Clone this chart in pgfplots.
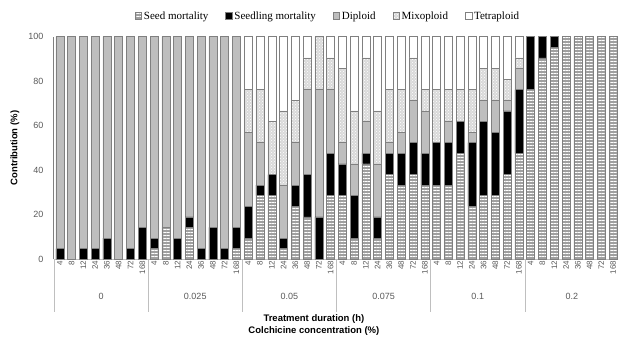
\documentclass[border=0pt]{standalone}
\usepackage{pgfplots}
\pgfplotsset{compat=1.18}
\usepackage{pgfplotstable}
\usetikzlibrary{patterns,patterns.meta}
\usepackage{fontspec}
\setmainfont{Liberation Sans}
\newfontfamily\legfont{Liberation Serif}
\definecolor{tickgray}{HTML}{595959}
\definecolor{edgegray}{HTML}{808080}
\definecolor{seedfill}{HTML}{A0A0A0}
\definecolor{dipfill}{HTML}{BEBEBE}
\definecolor{mixfill}{HTML}{D9D9D9}

\pgfplotstableread{
idx seed seedling diploid mixo tetra
0 0 4.76 95.24 0 0
1 0 0 100 0 0
2 0 4.76 95.24 0 0
3 0 4.76 95.24 0 0
4 0 9.52 90.48 0 0
5 0 0 100 0 0
6 0 4.76 95.24 0 0
7 0 14.29 85.71 0 0
8 4.76 4.76 90.48 0 0
9 14.29 0 85.71 0 0
10 0 9.52 90.48 0 0
11 14.29 4.76 80.95 0 0
12 0 4.76 95.24 0 0
13 0 14.29 85.71 0 0
14 0 4.76 95.24 0 0
15 4.76 9.52 85.71 0 0
16 9.52 14.29 33.33 19.05 23.81
17 28.57 4.76 19.05 23.81 23.81
18 28.57 9.52 0 23.81 38.10
19 4.76 4.76 23.81 33.33 33.33
20 23.81 9.52 19.05 19.05 28.57
21 19.05 19.05 38.10 14.29 9.52
22 0 19.05 57.14 23.81 0
23 28.57 19.05 28.57 14.29 9.52
24 28.57 14.29 9.52 33.33 14.29
25 9.52 19.05 14.29 23.81 33.33
26 42.86 4.76 14.29 28.57 9.52
27 9.52 9.52 23.81 23.81 33.33
28 38.10 9.52 4.76 23.81 23.81
29 33.33 14.29 9.52 19.05 23.81
30 38.10 14.29 19.05 19.05 9.52
31 33.33 14.29 19.05 9.52 23.81
32 33.33 19.05 0 23.81 23.81
33 33.33 19.05 9.52 14.29 23.81
34 47.62 14.29 0 14.29 23.81
35 23.81 28.57 4.76 19.05 23.81
36 28.57 33.33 9.52 14.29 14.29
37 28.57 28.57 14.29 14.29 14.29
38 38.10 28.57 4.76 9.52 19.05
39 47.62 28.57 9.52 4.76 9.52
40 76.19 23.81 0 0 0
41 90.48 9.52 0 0 0
42 95.24 4.76 0 0 0
43 100 0 0 0 0
44 100 0 0 0 0
45 100 0 0 0 0
46 100 0 0 0 0
47 100 0 0 0 0
}\datatable

\begin{document}
\begin{tikzpicture}
\begin{axis}[
  at={(54pt,80.7pt)}, anchor=south west,
  scale only axis, width=565pt, height=222.6pt,
  ybar stacked, bar width=0.68,
  xmin=-0.5, xmax=47.5, ymin=0, ymax=100,
  ytick={0,20,...,100},
  xtick={0,...,47},
  xticklabels={4,8,12,24,36,48,72,168,4,8,12,24,36,48,72,168,4,8,12,24,36,48,72,168,4,8,12,24,36,48,72,168,4,8,12,24,36,48,72,168,4,8,12,24,36,48,72,168},
  x tick label style={rotate=90, anchor=east, font=\fontsize{8}{9}\selectfont, text=tickgray, inner sep=1.5pt},
  y tick label style={font=\fontsize{9}{10}\selectfont, text=tickgray, xshift=-7pt},
  /pgf/number format/assume math mode=true,
  major tick length=0pt,
  axis x line*=bottom, axis y line*=left,
  x axis line style={draw=gray!50, -},
  y axis line style={draw=edgegray, line width=1pt, -},
  clip=false,
  xlabel={Treatment duration (h)\\Colchicine concentration (\%)},
  xlabel style={at={(axis description cs:0.460,-0.2960)}, anchor=center, align=center, font=\bfseries\fontsize{9.5}{12}\selectfont},
  ylabel={Contribution (\%)},
  every axis y label/.style={at={(axis description cs:-0.069,0.5)}, rotate=90, anchor=center, font=\bfseries\fontsize{9.5}{12}\selectfont},
  legend columns=5,
  legend style={at={(axis description cs:0.485,1.093)}, anchor=center, draw=none, fill=none,
    font=\legfont\fontsize{11}{12}\selectfont,
    /tikz/every even column/.append style={column sep=15pt}},
  legend image code/.code={\draw[#1] (0pt,-3pt) rectangle (6.5pt,3.5pt);},
]
\addplot[fill=seedfill, draw=edgegray, line width=0.5pt,
  postaction={pattern={Lines[angle=0,distance=3pt,line width=0.7pt]}, pattern color=white}]
  table[x=idx, y=seed]{\datatable};
\addplot[fill=black, draw=edgegray, line width=0.5pt]
  table[x=idx, y=seedling]{\datatable};
\addplot[fill=dipfill, draw=edgegray, line width=0.5pt]
  table[x=idx, y=diploid]{\datatable};
\addplot[fill=mixfill, draw=edgegray, line width=0.5pt,
  postaction={pattern=crosshatch dots, pattern color=white}]
  table[x=idx, y=mixo]{\datatable};
\addplot[fill=white, draw=edgegray, line width=0.5pt]
  table[x=idx, y=tetra]{\datatable};
\legend{Seed mortality, Seedling mortality, Diploid, Mixoploid, Tetraploid}
\pgfplotsinvokeforeach{-0.5,7.5,15.5,23.5,31.5,39.5,47.5}{
  \draw[gray!50] (axis cs:#1,0) -- ([yshift=-53pt]axis cs:#1,0);
}
\node[text=tickgray, font=\fontsize{9}{10}\selectfont] at ([yshift=-37pt]axis cs:3.5,0) {0};
\node[text=tickgray, font=\fontsize{9}{10}\selectfont] at ([yshift=-37pt]axis cs:11.5,0) {0.025};
\node[text=tickgray, font=\fontsize{9}{10}\selectfont] at ([yshift=-37pt]axis cs:19.5,0) {0.05};
\node[text=tickgray, font=\fontsize{9}{10}\selectfont] at ([yshift=-37pt]axis cs:27.5,0) {0.075};
\node[text=tickgray, font=\fontsize{9}{10}\selectfont] at ([yshift=-37pt]axis cs:35.5,0) {0.1};
\node[text=tickgray, font=\fontsize{9}{10}\selectfont] at ([yshift=-37pt]axis cs:43.5,0) {0.2};
\end{axis}
\pgfresetboundingbox
\useasboundingbox (0pt,0pt) rectangle (618pt,340pt);
\end{tikzpicture}
\end{document}
